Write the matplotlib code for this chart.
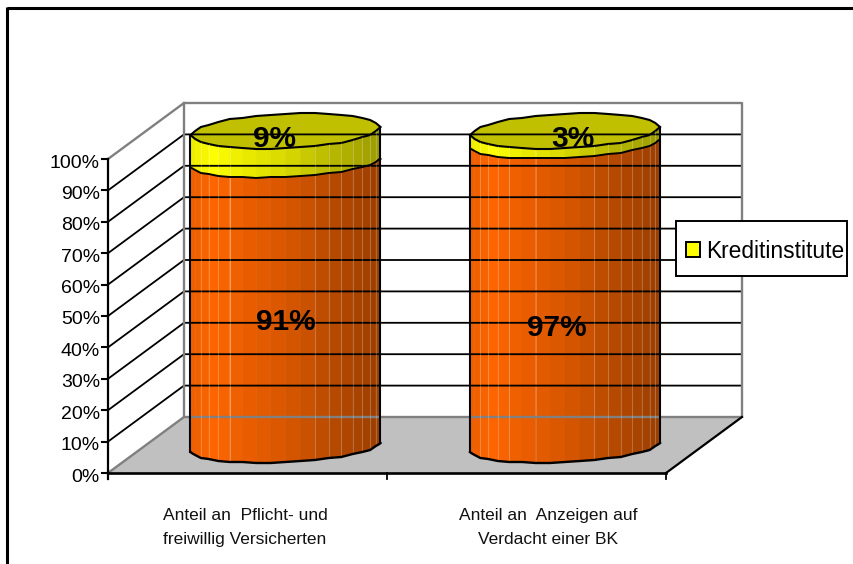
import numpy as np
import matplotlib
matplotlib.use("Agg")
import matplotlib.pyplot as plt
from matplotlib.patches import Polygon, Patch, Rectangle

plt.rcParams['font.family'] = ['Liberation Sans', 'DejaVu Sans']

categories = ["Anteil an  Pflicht- und\nfreiwillig Versicherten", "Anteil an  Anzeigen auf\nVerdacht einer BK"]
lower_values = [91, 97]
upper_values = [9, 3]
legend_label = "Kreditinstitute"
y_ticks = list(range(0, 101, 10))

ORANGE = np.array([255, 102, 0]) / 255
YELLOW = np.array([255, 255, 0]) / 255
TOP_FACE = "#c0c000"
GREY = "#808080"

# chart geometry in pixels of the picture
X0, X1 = 108, 666
Y0, Y100 = 473, 159
DX, DY = 76, -56
CX0, CX_STEP, RADIUS = 285.5, 279.5, 95
CYL_Y0, CYL_SCALE = 447.5, 3.175
FACETS = 20
COARSE = 7


def yscale(v):
    return Y0 - (Y0 - Y100) * v / 100


def shade(u):
    return np.interp(u, [0, 0.13, 0.2, 0.5, 0.75, 1], [0.92, 1, 0.95, 0.85, 0.72, 0.6])


def curve(cx, cy, tilt, b, back=False):
    # coarse polygon like the old 3d renderer, resampled onto the facets
    s = -1 if back else 1
    tc = np.linspace(np.pi, 0, COARSE + 1)
    xc = cx + RADIUS * np.cos(tc)
    yc = cy - tilt * np.cos(tc) + s * b * np.sin(tc)
    x = cx + RADIUS * np.cos(np.linspace(np.pi, 0, FACETS + 1))
    return x, np.round(np.interp(x, xc, yc))


fig = plt.figure(figsize=(8.54, 5.64), dpi=100)
ax = fig.add_axes([0, 0, 1, 1])
ax.set_xlim(0, 854)
ax.set_ylim(564, 0)
ax.axis("off")

# frame, only top and left show
ax.plot([7.5, 854], [8, 8], color="black", lw=2.2, solid_capstyle="butt")
ax.plot([7.5, 7.5], [7, 564], color="black", lw=2.2, solid_capstyle="butt")

# floor
ax.add_patch(Polygon([(X0, Y0), (X1, Y0), (X1 + DX, Y0 + DY), (X0 + DX, Y0 + DY)], fc="#c0c0c0", ec="none"))

# grid
for v in y_ticks[1:-1]:
    y = yscale(v)
    ax.plot([X0, X0 + DX, X1 + DX], [y, y + DY, y + DY], color="black", lw=1.3)

# walls
ax.plot([X0, X0 + DX, X1 + DX, X1 + DX, X0 + DX, X0 + DX],
        [Y100, Y100 + DY, Y100 + DY, Y0 + DY, Y0 + DY, Y100 + DY], color=GREY, lw=1.7)
ax.plot([X0, X0 + DX], [Y0, Y0 + DY], color=GREY, lw=1.7)
ax.plot([X1, X1 + DX], [Y0, Y0 + DY], color="black", lw=1.6)

# axes and ticks
ax.plot([X0, X0], [Y100, Y0 + 6], color="black", lw=1.6)
ax.plot([X0, X1], [Y0, Y0], color="black", lw=1.9)
for v in y_ticks:
    ax.plot([X0 - 6, X0], [yscale(v), yscale(v)], color="black", lw=1.5)
    ax.text(X0 - 8, yscale(v) + 4, f"{v}%", ha="right", va="center", fontsize=14, color="black")
for i in range(3):
    ax.plot([X0 + 279 * i] * 2, [Y0, Y0 + 6], color="black", lw=1.3)

label_x = [245, 548.5]
for x, cat in zip(label_x, categories):
    ax.text(x, 527.5, cat, ha="center", va="center", fontsize=12.5, color="#111111", linespacing=1.68)


def body(xs, y_low, y_high, base):
    for k in range(len(xs) - 1):
        u = ((xs[k] + xs[k + 1]) / 2 - xs[0]) / (xs[-1] - xs[0])
        col = base * shade(u)
        ax.add_patch(Polygon([(xs[k], y_low[k]), (xs[k + 1], y_low[k + 1]),
                              (xs[k + 1], y_high[k + 1]), (xs[k], y_high[k])],
                             fc=col, ec=col, lw=0.4))
    # pale facet seams
    for k in [3, 4, 5, 6, 12, 13, 14, 15, 16, 17, 18, 19]:
        ax.plot([xs[k], xs[k]], [y_low[k], y_high[k]], color="white", alpha=0.22, lw=0.8)


for i in range(len(categories)):
    cx = CX0 + CX_STEP * i
    cy_bottom = CYL_Y0
    cy_mid = CYL_Y0 - CYL_SCALE * lower_values[i] + 4.5
    cy_top = CYL_Y0 - CYL_SCALE * (lower_values[i] + upper_values[i]) + 1

    xb, yb = curve(cx, cy_bottom, 4.5, 15)
    xm, ym = curve(cx, cy_mid, 4.5, 14)
    xt, yt = curve(cx, cy_top, 4, 17.5)
    xtb, ytb = curve(cx, cy_top, 4, 17.5, back=True)

    body(xb, yb, ym, ORANGE)
    body(xm, ym, yt, YELLOW)
    ax.add_patch(Polygon(list(zip(xt, yt)) + list(zip(xtb[::-1], ytb[::-1])), fc=TOP_FACE, ec="black", lw=1.5))

    ax.plot(xb, yb, color="black", lw=1.7)
    ax.plot(xm, ym, color="black", lw=1.4)
    ax.plot([xb[0], xt[0]], [yb[0], yt[0]], color="black", lw=1.5)
    ax.plot([xb[-1], xt[-1]], [yb[-1], yt[-1]], color="black", lw=1.5)

lower_pos = [(286, 322), (557, 328)]
upper_pos = [(275, 139), (573, 139)]
for i in range(2):
    ax.text(*lower_pos[i], f"{lower_values[i]}%", ha="center", va="center", fontsize=21.5, fontweight="bold", color="black")
    ax.text(*upper_pos[i], f"{upper_values[i]}%", ha="center", va="center", fontsize=21.5, fontweight="bold", color="black")

# legend box is wider than tall padding allows, so the frame is drawn apart
ax.add_patch(Rectangle((676, 221), 171, 55, fc="white", ec="black", lw=1.4, zorder=4.9))
leg = ax.legend(handles=[Patch(fc=YELLOW, ec="black", lw=1.4, label=legend_label)],
                loc="center left", bbox_to_anchor=(686, 251), bbox_transform=ax.transData,
                fontsize=16.4, frameon=False, handlelength=0.62, handleheight=0.62,
                handletextpad=0.27, borderpad=0, borderaxespad=0)

plt.savefig("out.png", dpi=100)
